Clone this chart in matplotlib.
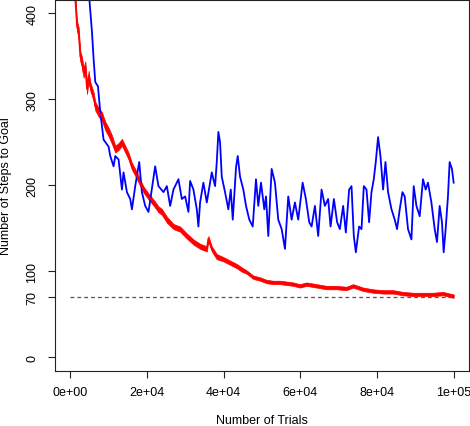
import numpy as np
import matplotlib
matplotlib.use("Agg")
import matplotlib.pyplot as plt

plt.rcParams['font.family'] = ['Liberation Sans', 'DejaVu Sans']

# values (trials, steps to goal)
blue_trials = [0, 2500, 4000, 4900, 5650, 6070, 6510, 7210, 7500, 7810, 8250, 8670,
               9970, 10420, 11280, 11720, 12580, 13460, 13880, 14760, 15620, 16070,
               16930, 17970, 18670, 19530, 20390, 22130, 22990, 24300, 25180, 26040,
               26900, 28200, 29090, 29950, 30810, 31250, 32110, 32990, 33410, 33850,
               34710, 35600, 36900, 37760, 38200, 38620, 39060, 39500, 40360, 41220,
               41850, 42370, 43230, 43670, 44270, 45130, 45830, 46690, 47580, 48430,
               49030, 49740, 50600, 51040, 51640, 52520, 53380, 54240, 55130, 55990,
               56850, 57730, 58590, 59450, 60600, 61450, 62320, 62940, 63800, 64660,
               65540, 66400, 67260, 67890, 68750, 69600, 70310, 71170, 71870, 72730,
               73350, 73950, 74480, 75330, 75960, 76560, 77260, 77940, 78560, 79160,
               79680, 80280, 80900, 81590, 82210, 82890, 83780, 84630, 85230, 85930,
               86640, 87230, 88090, 88980, 89580, 90280, 91140, 92000, 92700, 93300,
               94190, 95050, 95650, 96350, 96950, 97390, 97910, 98510, 98950, 99550,
               100000]
blue_steps = [900, 560, 460, 420, 378, 347, 320, 315, 300, 285, 269, 253,
              245, 234, 222, 234, 230, 195, 215, 192, 184, 172,
              199, 227, 192, 176, 169, 222, 199, 192, 199, 176,
              195, 207, 184, 187, 169, 205, 195, 172, 152, 180,
              203, 180, 215, 199, 227, 262, 250, 210, 192, 172,
              195, 160, 221, 234, 210, 195, 176, 160, 152, 207,
              176, 203, 172, 187, 141, 219, 203, 160, 149, 126,
              187, 160, 180, 160, 203, 184, 157, 152, 176, 141,
              195, 176, 184, 152, 184, 157, 149, 176, 145, 195,
              199, 141, 122, 152, 149, 199, 195, 157, 192, 207,
              227, 256, 234, 195, 227, 192, 172, 160, 149, 172,
              192, 187, 149, 137, 199, 176, 164, 207, 195, 203,
              180, 149, 134, 176, 157, 122, 149, 187, 227, 219,
              203]

red_trials = [0, 1300, 1740, 2160, 2600, 3050, 3460, 3910, 4350, 4770, 5210, 6070,
              6510, 7370, 8250, 9110, 9970, 10860, 11720, 12580, 13460, 14320,
              15180, 16070, 16930, 17790, 19090, 20390, 21690, 22990, 23880, 25180,
              26900, 28640, 30390, 32110, 33850, 35600, 36010, 36900, 38200, 39920,
              41660, 43410, 44710, 46010, 47730, 49480, 51220, 52940, 54680, 56430,
              58150, 59890, 61640, 64240, 66850, 69450, 72050, 73770, 76380, 78980,
              81590, 84190, 86790, 89390, 91990, 94590, 97190, 100000]
red_steps = [540, 416, 385, 378, 350, 343, 331, 338, 312, 327, 315, 303,
             292, 285, 280, 269, 262, 253, 242, 245, 250, 242,
             234, 222, 215, 207, 195, 187, 180, 172, 169, 160,
             152, 149, 141, 134, 129, 126, 138, 126, 117, 114,
             110, 106, 102, 99, 93, 91, 88, 87, 87, 86,
             85, 83, 85, 83, 81, 81, 80, 83, 79, 77,
             76, 76, 74, 73, 73, 73, 74, 71]
# half thickness of the noisy red band, read at the same trials
red_spread = [6, 6, 6, 6, 6, 6, 6, 6, 6, 6, 5, 5,
              5, 5, 5, 5, 5, 5, 4, 4, 4, 4,
              4, 4, 4, 4, 3.5, 3.5, 3.5, 3.5, 3.5, 3.5,
              3, 3, 3, 3, 3, 3, 3, 3, 3, 2.5,
              2.5, 2.5, 2.5, 2, 2, 2, 2, 2, 2, 2,
              2, 2, 2, 2, 2, 2, 2, 2, 2, 2,
              2, 2, 2, 2, 2, 2, 2, 2]

optimal_steps = 70
x_ticks = [0, 20000, 40000, 60000, 80000, 100000]
x_tick_labels = ["0e+00", "2e+04", "4e+04", "6e+04", "8e+04", "1e+05"]
y_ticks = [0, 70, 100, 200, 300, 400]


fig = plt.figure(figsize=(4.7, 4.27), dpi=100)
ax = fig.add_axes([55 / 470, 55 / 427, 414 / 470, 371.5 / 427])

ax.plot(blue_trials, blue_steps, color='#0000FF', lw=1.3)

red_steps = np.array(red_steps)
red_spread = np.array(red_spread)
ax.fill_between(red_trials, red_steps - red_spread, red_steps + red_spread,
                color='#FF0000', lw=0.5)
ax.plot(red_trials, red_steps, color='#FF0000', lw=1.2)

ax.plot([0, 100000], [optimal_steps, optimal_steps], color='#555555', lw=0.9,
        ls=(0, (3, 2.5)))

ax.set_xlim(-4000, 104000)
ax.set_ylim(-16, 416)
ax.set_xticks(x_ticks)
ax.set_xticklabels(x_tick_labels)
ax.set_yticks(y_ticks)
ax.set_yticklabels([str(v) for v in y_ticks])

for s in ax.spines.values():
    s.set_linewidth(0.8)
    s.set_color('#222222')
ax.tick_params(axis='both', direction='out', length=5, width=0.8, color='#222222',
               labelsize=9)
ax.tick_params(axis='x', pad=6)
ax.tick_params(axis='y', pad=7, labelrotation=90)
for lab in ax.get_yticklabels():
    lab.set_va('center')

fig.text(262 / 470, 1 - 421 / 427, "Number of Trials", ha='center', va='center',
         fontsize=9)
fig.text(6 / 470, 1 - 186 / 427, "Number of Steps to Goal", ha='center',
         va='center', rotation=90, fontsize=9)

fig.savefig("out.png", dpi=100)
